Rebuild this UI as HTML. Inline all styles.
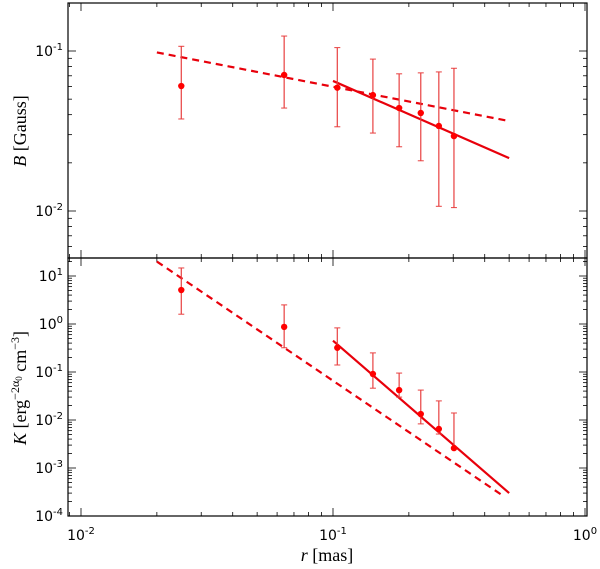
<!DOCTYPE html>
<html><head><meta charset="utf-8"><style>
body{margin:0;background:#fff;}
svg{display:block;font-family:"DejaVu Sans","Liberation Sans",sans-serif;}
</style></head><body>
<svg id="chart" width="600" height="569" viewBox="0 0 600 569" xmlns="http://www.w3.org/2000/svg">
<g id="plot"></g>
<text x="327" y="561" text-anchor="middle" font-family="Liberation Serif,serif" font-size="18"><tspan font-style="italic">r</tspan> [mas]</text>
<text transform="translate(26,131) rotate(-90)" text-anchor="middle" font-family="Liberation Serif,serif" font-size="18"><tspan font-style="italic">B</tspan> [Gauss]</text>
<text transform="translate(26,388) rotate(-90)" text-anchor="middle" font-family="Liberation Serif,serif" font-size="18"><tspan font-style="italic">K</tspan> [erg<tspan dy="-7" font-size="12">−2α</tspan><tspan font-size="9" dy="3">0</tspan><tspan dy="4"> cm</tspan><tspan dy="-7" font-size="12">−3</tspan><tspan dy="7">]</tspan></text>
</svg>
<script>
const radii = [0.025, 0.064, 0.104, 0.144, 0.183, 0.223, 0.263, 0.302];
const bValues = [0.0604, 0.0708, 0.059, 0.053, 0.044, 0.041, 0.034, 0.0294];
const bUpper = [0.107, 0.124, 0.105, 0.089, 0.072, 0.073, 0.074, 0.078];
const bLower = [0.0376, 0.044, 0.0336, 0.0307, 0.0252, 0.0206, 0.0107, 0.0105];
const kValues = [5.1, 0.87, 0.32, 0.091, 0.042, 0.0133, 0.0065, 0.0026];
const kUpper = [14.7, 2.5, 0.83, 0.25, 0.095, 0.042, 0.025, 0.014];
const kLower = [1.6, 0.32, 0.14, 0.046, 0.030, 0.0083, 0.0051, 0.0026];
const bDashR = [0.02, 0.5], bDashV = [0.098, 0.0365];
const bSolidR = [0.1, 0.5], bSolidV = [0.065, 0.0214];
const kDashR = [0.02, 0.48], kDashV = [20.0, 0.00025];
const kSolidR = [0.1, 0.5], kSolidV = [0.45, 0.0003];
const xTickLabels = ["10⁻²","10⁻¹","10⁰"];

const NS="http://www.w3.org/2000/svg";
const g=document.getElementById('plot');
const L=68,R=587;
const xs=r=>333+(Math.log10(r)+1)*252;
const yB=v=>51+(-1-Math.log10(v))*160;
const yK=v=>276+(1-Math.log10(v))*48;
function mk(t,a){const e=document.createElementNS(NS,t);for(const k in a)e.setAttribute(k,a[k]);g.appendChild(e);return e;}
function sup(x,y,exp,anchor,name){const t=mk('text',{x:x,y:y,'text-anchor':anchor,'font-size':14});


t.innerHTML='10<tspan dy="-6" font-size="10">'+exp+'</tspan>';}
[[3,258,yB,-3,0,'top'],[258,516,yK,-4,1,'bottom']].forEach(([T,B,ys,d0,d1,nm])=>{
 const fr=mk('rect',{x:L,y:T,width:R-L,height:B-T,fill:'none',stroke:'#000','stroke-width':1.2});
 
 
 for(let d=d0;d<=d1;d++)for(let m=1;m<10;m++){const v=m*Math.pow(10,d);const y=ys(v);if(y<T+0.5||y>B-0.5)continue;
  const len=m==1?8:4;
  mk('line',{x1:L,x2:L+len,y1:y,y2:y,stroke:'#000','stroke-width':0.8});
  mk('line',{x1:R,x2:R-len,y1:y,y2:y,stroke:'#000','stroke-width':0.8});
  if(m==1&&(nm=='bottom'||(d==-1||d==-2)))sup(L-5,y+5,d,'end',nm+'-y-tick-label');}
 if(nm=='bottom'){sup(L-5,521,-4,'end','bottom-y-tick-label');}
 for(let d=-3;d<=0;d++)for(let m=1;m<10;m++){const v=m*Math.pow(10,d);const x=xs(v);if(x<L+0.5||x>R-0.5)continue;
  const len=m==1?8:4;
  mk('line',{x1:x,x2:x,y1:T,y2:T+len,stroke:'#000','stroke-width':0.8});
  mk('line',{x1:x,x2:x,y1:B,y2:B-len,stroke:'#000','stroke-width':0.8});}
});
xTickLabels.forEach((lab,i)=>{const x=xs(Math.pow(10,i-2));const t=mk('text',{x:x,y:540,'text-anchor':'middle','font-size':14});
 
 
 t.innerHTML='10<tspan dy="-6" font-size="10">'+(i-2)+'</tspan>';});
function line(rs,vs,ys,dash,name){const l=mk('line',{x1:xs(rs[0]),y1:ys(vs[0]),x2:xs(rs[1]),y2:ys(vs[1]),stroke:'#e8000b','stroke-width':2.2});
 if(dash)l.setAttribute('stroke-dasharray','7,5');
 
 }
line(bDashR,bDashV,yB,true,'b-dashed-fit');
line(bSolidR,bSolidV,yB,false,'b-solid-fit');
line(kDashR,kDashV,yK,true,'k-dashed-fit');
line(kSolidR,kSolidV,yK,false,'k-solid-fit');
function pts(vals,up,lo,ys,nm){radii.forEach((r,i)=>{const x=xs(r);
 const e=mk('line',{x1:x,x2:x,y1:ys(up[i]),y2:ys(lo[i]),stroke:'#e84040','stroke-width':1.2});
 
 
 [up[i],lo[i]].forEach(v=>mk('line',{x1:x-3,x2:x+3,y1:ys(v),y2:ys(v),stroke:'#e84040','stroke-width':1}));
 const c=mk('circle',{cx:x,cy:ys(vals[i]),r:3.2,fill:'#ff0000'});
 
 });}
pts(bValues,bUpper,bLower,yB,'b');
pts(kValues,kUpper,kLower,yK,'k');
</script>
</body></html>
